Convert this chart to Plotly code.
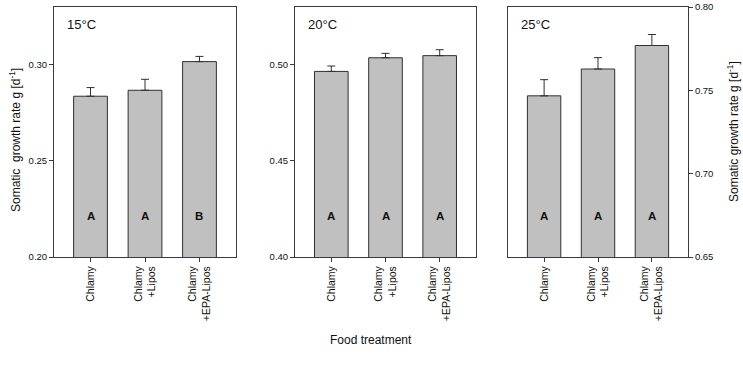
import plotly.graph_objects as go

categories = ["Chlamy", "Chlamy<br>+Lipos", "Chlamy<br>+EPA-Lipos"]
temps = ["15°C", "20°C", "25°C"]

growth_15 = [0.2836, 0.2867, 0.3016]
err_15 = [0.0045, 0.0057, 0.0027]
growth_20 = [0.4965, 0.5036, 0.5047]
err_20 = [0.0028, 0.0023, 0.0031]
growth_25 = [0.7467, 0.7628, 0.7769]
err_25 = [0.0097, 0.0068, 0.0066]

letters_15 = ["A", "A", "B"]
letters_20 = ["A", "A", "A"]
letters_25 = ["A", "A", "A"]

y_ranges = [[0.20, 0.33], [0.40, 0.53], [0.65, 0.80]]
y_ticks = [[0.20, 0.25, 0.30], [0.40, 0.45, 0.50], [0.65, 0.70, 0.75, 0.80]]
letter_y = [0.2212, 0.4212, 0.6745]

W, H = 743, 366
px_x = [(54, 236), (295, 476), (508, 688)]
px_top, px_bot = 7, 257

values = [growth_15, growth_20, growth_25]
errors = [err_15, err_20, err_25]
letters = [letters_15, letters_20, letters_25]

FONT = "Arial, Liberation Sans, sans-serif"
LINE = "#3a3a3a"

fig = go.Figure()
annotations = []
layout = {}
for i in range(3):
    xa = "x" if i == 0 else f"x{i+1}"
    ya = "y" if i == 0 else f"y{i+1}"
    fig.add_trace(go.Bar(
        x=[0, 1, 2], y=values[i], xaxis=xa, yaxis=ya,
        marker=dict(color="#c0c0c0", line=dict(color="#303030", width=1)),
        width=0.62,
        error_y=dict(type="data", array=errors[i], arrayminus=[0, 0, 0],
                     symmetric=False, color="#303030", thickness=1, width=4),
        showlegend=False, hoverinfo="skip",
    ))
    x0, x1 = px_x[i]
    dom_x = [x0 / W, x1 / W]
    dom_y = [1 - px_bot / H, 1 - px_top / H]
    xkey = "xaxis" if i == 0 else f"xaxis{i+1}"
    ykey = "yaxis" if i == 0 else f"yaxis{i+1}"
    layout[xkey] = dict(
        domain=dom_x, anchor=ya, range=[-0.67, 2.67],
        tickmode="array", tickvals=[0, 1, 2], ticktext=categories,
        tickangle=-90, ticks="outside", ticklen=4, tickcolor=LINE,
        showline=True, linecolor=LINE, linewidth=1, mirror=True,
        showgrid=False, zeroline=False, automargin=False,
        tickfont=dict(family=FONT, size=10.5, color="#111"),
    )
    ydict = dict(
        domain=dom_y, anchor=xa, range=y_ranges[i],
        tickmode="array", tickvals=y_ticks[i],
        ticktext=[f"{v:.2f}" for v in y_ticks[i]],
        ticks="outside", ticklen=4, tickcolor=LINE,
        showline=True, linecolor=LINE, linewidth=1, mirror=True,
        showgrid=False, zeroline=False, automargin=False,
        tickfont=dict(family=FONT, size=9.5, color="#111"),
    )
    if i == 2:
        ydict["side"] = "right"
    layout[ykey] = ydict
    for j in range(3):
        annotations.append(dict(
            x=j, y=letter_y[i], xref=xa, yref=ya, text=f"<b>{letters[i][j]}</b>",
            showarrow=False, font=dict(family=FONT, size=11.5, color="#111"),
        ))
    annotations.append(dict(
        x=0.06, y=0.928, xref=f"{xa} domain", yref=f"{ya} domain",
        text=temps[i], showarrow=False, xanchor="left", yanchor="middle",
        font=dict(family=FONT, size=13, color="#111"),
    ))

# Axis titles
annotations.append(dict(
    x=15 / W, y=1 - 140 / H, xref="paper", yref="paper",
    xanchor="center", yanchor="middle",
    text="Somatic  growth rate g [d<sup>-1</sup>]", textangle=-90, showarrow=False,
    font=dict(family=FONT, size=12, color="#111"),
))
annotations.append(dict(
    x=733 / W, y=1 - 132 / H, xref="paper", yref="paper",
    xanchor="center", yanchor="middle",
    text="Somatic growth rate g [d<sup>-1</sup>]", textangle=-90, showarrow=False,
    font=dict(family=FONT, size=12, color="#111"),
))
annotations.append(dict(
    x=371 / W, y=1 - 340 / H, xref="paper", yref="paper",
    xanchor="center", yanchor="middle",
    text="Food treatment", showarrow=False,
    font=dict(family=FONT, size=12, color="#111"),
))

fig.update_layout(
    width=W, height=H,
    margin=dict(l=0, r=0, t=0, b=0),
    paper_bgcolor="white", plot_bgcolor="white",
    annotations=annotations,
    **layout,
)

fig.write_html("out.html", config={"displayModeBar": False, "staticPlot": True},
               post_script="document.body.style.margin='0';document.body.style.overflow='hidden';")
